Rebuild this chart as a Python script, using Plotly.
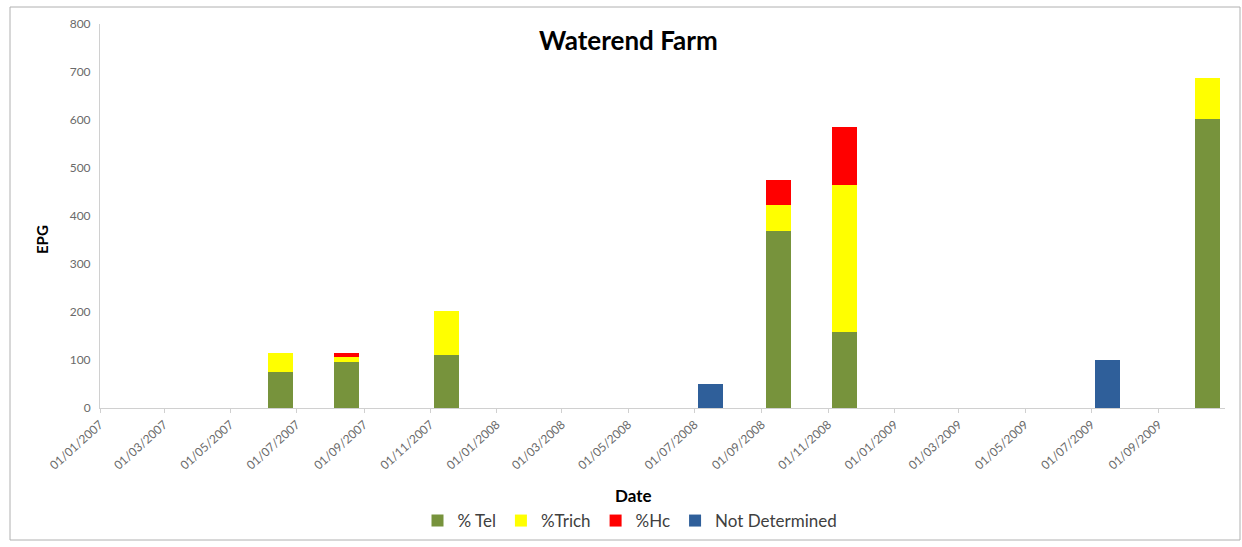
import plotly.graph_objects as go
import pandas as pd

# ---- data ----
dates = ['2007-06-16', '2007-08-16', '2007-11-16', '2008-07-16',
         '2008-09-16', '2008-11-16', '2009-07-16', '2009-10-16']
tel = [74, 96, 110, None, 369, 159, None, 602]
trich = [41, 10, 92, None, 54, 306, None, 85]
hc = [None, 8, None, None, 52, 120, None, None]
not_det = [None, None, None, 50, None, None, 100, None]

series_names = ['% Tel', '%Trich', '%Hc', 'Not Determined']
series_colors = ['#77933C', '#FFFF00', '#FF0000', '#2F5F9A']

tick_dates = pd.date_range('2007-01-01', '2009-09-01', freq='2MS')
tick_text = [d.strftime('%d/%m/%Y') for d in tick_dates]

bar_width_ms = 23 * 86400000

fig = go.Figure()
for name, vals, col in zip(series_names, [tel, trich, hc, not_det], series_colors):
    fig.add_trace(go.Bar(x=dates, y=vals, name=name, marker=dict(color=col, line=dict(width=0)),
                         width=bar_width_ms))

W, H = 1242, 547
L, R, T, B = 100, 17, 24, 139
pw = W - L - R
ph = H - T - B

def px_x(px):
    return (px - L) / pw

def px_y(py):
    return (H - B - py) / ph

fig.update_layout(
    width=W, height=H,
    margin=dict(l=L, r=R, t=T, b=B, autoexpand=False),
    barmode='stack',
    plot_bgcolor='white', paper_bgcolor='white',
    font=dict(family='Lato, Open Sans, sans-serif', color='#404040'),
    showlegend=True,
    legend=dict(orientation='h', x=px_x(630), y=px_y(521), xanchor='center', yanchor='middle',
                font=dict(size=17, color='#404040'), traceorder='normal', itemwidth=30,
                bgcolor='rgba(0,0,0,0)'),
    xaxis=dict(type='date', range=['2007-01-01', '2009-11-01'],
               tickvals=list(tick_dates), ticktext=tick_text, tickangle=-42,
               tickfont=dict(size=12, color='#6a6a6a'),
               showline=True, linecolor='#d0d0d0', linewidth=1,
               ticks='outside', ticklen=4, tickcolor='#d0d0d0',
               showgrid=False, zeroline=False),
    yaxis=dict(range=[0, 800], dtick=100, tickfont=dict(size=12, color='#6a6a6a'),
               showline=True, linecolor='#d0d0d0', linewidth=1,
               ticks='outside', ticklen=6, tickcolor='#ffffff',
               showgrid=False, zeroline=False),
    annotations=[
        dict(text='<b>Waterend Farm</b>', xref='paper', yref='paper', x=px_x(628), y=px_y(40),
             showarrow=False, font=dict(size=26, color='#000000'), xanchor='center', yanchor='middle'),
        dict(text='<b>EPG</b>', xref='paper', yref='paper', x=px_x(42), y=px_y(240), textangle=-90,
             showarrow=False, font=dict(size=15, color='#000000'), xanchor='center', yanchor='middle'),
        dict(text='<b>Date</b>', xref='paper', yref='paper', x=px_x(633), y=px_y(495),
             showarrow=False, font=dict(size=17, color='#000000'), xanchor='center', yanchor='middle'),
    ],
    shapes=[
        dict(type='rect', xref='paper', yref='paper', x0=px_x(10), x1=px_x(1240), y0=px_y(540), y1=px_y(7),
             line=dict(color='#b0b0b0', width=1), fillcolor='rgba(0,0,0,0)', layer='below'),
    ],
)

fig.write_html('out.html')
